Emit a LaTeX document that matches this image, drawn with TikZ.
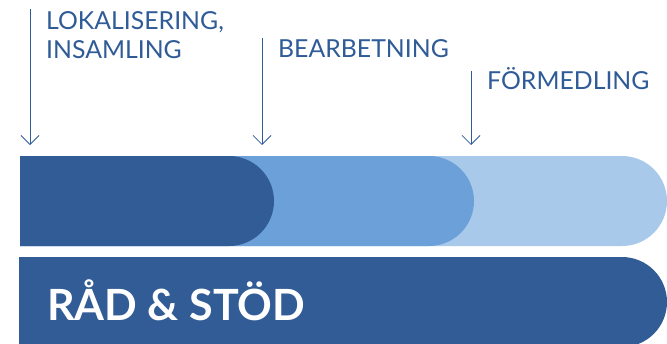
\documentclass[tikz,border=0pt]{standalone}
\usepackage{fontspec}
\setmainfont{Lato}
\usetikzlibrary{arrows.meta}
\definecolor{darkblue}{HTML}{315C96}
\definecolor{midblue}{HTML}{6CA0D9}
\definecolor{lightblue}{HTML}{A8C9EA}
\definecolor{txtblue}{HTML}{2F5B97}
\tikzset{
  lbl/.style={anchor=base west, inner sep=0pt, text=txtblue, font=\fontsize{24.8}{29}\selectfont, align=left},
  pointer/.style={draw=txtblue, line width=0.8pt, -{Straight Barb[length=9pt,width=18pt,line width=0.8pt]}},
}
\begin{document}
\begin{tikzpicture}[x=1pt,y=-1pt]
\useasboundingbox (0,0) rectangle (667,343);
\begin{scope}
\clip (0,0) rectangle (667,343);
% top bar layers
\fill[lightblue] (20,156) {[rounded corners=45pt] -- (667,156) -- (667,246)} -- (20,246) -- cycle;
\fill[midblue] (20,156) {[rounded corners=45pt] -- (474,156) -- (474,246)} -- (20,246) -- cycle;
\fill[darkblue] (20,156) {[rounded corners=45pt] -- (274,156) -- (274,246)} -- (20,246) -- cycle;
% bottom bar
\fill[darkblue] (19,257) {[rounded corners=45pt] -- (667,257) -- (667,347)} -- (19,347) -- cycle;
\end{scope}
\node[anchor=base west, inner sep=0pt, text=white, font=\fontsize{43}{43}\selectfont\bfseries] (rad) at (47,320) {RÅD \& STÖD};
% labels
\node[lbl] (lok) at (46,58) {LOKALISERING,\\INSAMLING};
\node[lbl] (bea) at (278,57) {BEARBETNING};
\node[lbl] (for) at (487,89) {FÖRMEDLING};
% arrows
\coordinate (a1s) at (30,9);  \coordinate (a1e) at (30,145);
\coordinate (a2s) at (262,38); \coordinate (a2e) at (262,145);
\coordinate (a3s) at (471,71); \coordinate (a3e) at (471,145);
\draw[pointer] (a1s) -- (a1e);
\draw[pointer] (a2s) -- (a2e);
\draw[pointer] (a3s) -- (a3e);
\end{tikzpicture}
\end{document}
